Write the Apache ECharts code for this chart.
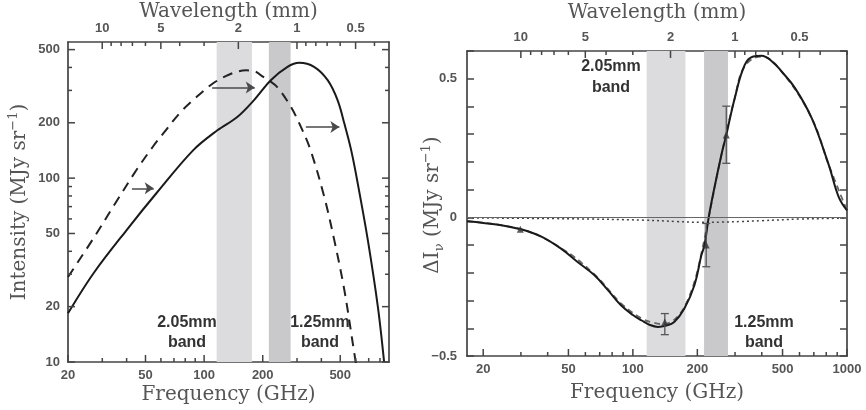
<!DOCTYPE html>
<html>
<head>
<meta charset="utf-8">
<script src="https://cdn.jsdelivr.net/npm/echarts@6/dist/echarts.min.js"></script>
<style>
  html, body { margin: 0; padding: 0; background: #fff; }
  #chart { width: 866px; height: 410px; }
</style>
</head>
<body>
<div id="chart"></div>
<script>
// ---------- Left panel: spectrum (log–log) ----------
// [frequency GHz, intensity MJy/sr]
const undistortedSpectrum = [
  [20, 29], [27, 47], [35, 73], [45, 111], [55, 150], [62, 176], [75, 226],
  [90, 272], [110, 325], [130, 360], [150, 381], [165, 386], [185, 378],
  [195, 363], [215, 340], [238, 312], [279, 244], [314, 190], [352, 142],
  [414, 79], [466, 46], [525, 24.6], [591, 11.1], [610, 9]
];
const distortedSpectrum = [
  [20, 18.4], [27, 30.3], [40, 52.2], [57, 83], [88, 142], [117, 182],
  [148, 215], [180, 265], [220, 341], [268, 403], [308, 424], [367, 403],
  [431, 341], [485, 265], [525, 198], [569, 142], [615, 93.6], [693, 46],
  [780, 20], [840, 10]
];
// [start GHz, end GHz, intensity]
const shiftArrows = [[42.6, 55.1, 88], [110, 182, 311], [333, 495, 190]];

// ---------- Right panel: intensity change ----------
// [frequency GHz, ΔI MJy/sr]
const deltaSolid = [
  [16.8, -0.014], [20, -0.02], [25, -0.03], [30, -0.043], [37, -0.068],
  [46, -0.112], [55, -0.16], [66, -0.208], [77, -0.265], [88, -0.317],
  [100, -0.352], [110, -0.372], [120, -0.388], [131, -0.395], [142, -0.391],
  [156, -0.377], [174, -0.329], [194, -0.244], [209, -0.136], [216, -0.1],
  [226, 0], [240, 0.105], [259, 0.225], [273, 0.297], [299, 0.43],
  [333, 0.55], [365, 0.58], [399, 0.583], [450, 0.56], [495, 0.526],
  [572, 0.466], [685, 0.357], [821, 0.19], [914, 0.074], [1000, 0.025]
];
const deltaDashed = [
  [16.8, -0.014], [30, -0.043], [46, -0.11], [66, -0.205], [88, -0.31],
  [110, -0.365], [125, -0.38], [138, -0.385], [150, -0.378], [165, -0.35],
  [180, -0.3], [196, -0.22], [209, -0.13], [226, 0], [259, 0.225],
  [299, 0.43], [333, 0.545], [399, 0.58], [495, 0.526], [685, 0.357],
  [821, 0.19], [1000, 0.025]
];
const deltaDotted = [
  [16.8, -0.002], [50, -0.005], [113, -0.01], [160, -0.015], [209, -0.018],
  [260, -0.017], [320, -0.015], [399, -0.012], [600, -0.006], [821, -0.004],
  [1000, -0.002]
];
const measuredPoints = [[29.8, -0.043], [141, -0.377], [220, -0.1], [273, 0.297]];
// [frequency, low, high]
const errorBars = [[141, -0.423, -0.347], [220, -0.178, -0.022], [273, 0.195, 0.401]];

// ---------- Shared ----------
const band205 = [116, 176];
const band125 = [215, 278];
const freqLabelsLeft = [20, 50, 100, 200, 500];
const freqMinorLeft = [30, 40, 60, 70, 80, 90, 300, 400, 600, 700, 800];
const freqLabelsRight = [20, 50, 100, 200, 500, 1000];
const freqMinorRight = [30, 40, 60, 70, 80, 90, 300, 400, 600, 700, 800, 900];
const intensityLabels = [10, 20, 50, 100, 200, 500];
const intensityMinor = [30, 40, 60, 70, 80, 90, 300, 400];
const deltaLabels = [-0.5, 0, 0.5];
const wavelengthLabels = [10, 5, 2, 1, 0.5];
const wavelengthMinor = [9, 8, 7, 6, 4, 3, 0.9, 0.8, 0.7, 0.6, 0.4, 0.3];

const C_MM_GHZ = 299.792458; // c in mm·GHz

const AXIS_COLOR = '#444';
const TEXT_COLOR = '#555';
const LABEL_FONT = { fontFamily: 'Liberation Sans', fontWeight: 'bold', fontSize: 13, color: TEXT_COLOR };
const TITLE_FONT = 'DejaVu Serif';
const TITLE_SIZE = 20;
const TICK_MAJOR = 7;
const TICK_MINOR = 4;

const X_RANGE = [[20, 890], [16.8, 1000]];
const Y_RANGE = [[10, 550], [-0.5, 0.6]];

function inRange(vals, r) { return vals.filter(v => v >= r[0] - 1e-9 && v <= r[1] + 1e-9); }
function toFreq(lams) { return lams.map(l => C_MM_GHZ / l); }

const titleStyle = { fontFamily: TITLE_FONT, fontSize: TITLE_SIZE, color: TEXT_COLOR };

function logXAxis(grid, position, labels, formatter, name, nameGap) {
  const r = X_RANGE[grid];
  return {
    type: 'log', logBase: 10, gridIndex: grid, position: position,
    min: r[0], max: r[1],
    name: name, nameLocation: 'middle', nameGap: nameGap, nameTextStyle: titleStyle,
    nameMoveOverlap: false,
    axisLine: { show: true, onZero: false, lineStyle: { color: AXIS_COLOR, width: 1.7 } },
    axisTick: { show: false },
    axisLabel: Object.assign({ show: true, margin: 7, customValues: inRange(labels, r),
                formatter: formatter }, LABEL_FONT),
    splitLine: { show: false }
  };
}

function logYAxis(position, labels) {
  const r = Y_RANGE[0];
  return {
    type: 'log', logBase: 10, gridIndex: 0, position: position,
    min: r[0], max: r[1],
    axisLine: { show: true, lineStyle: { color: AXIS_COLOR, width: 1.7 } },
    axisTick: { show: false },
    axisLabel: labels ? Object.assign({ show: true, margin: 8, customValues: labels,
                formatter: v => String(Math.round(v)) }, LABEL_FONT) : { show: false },
    splitLine: { show: false }
  };
}

function deltaYAxis(position, showLabels) {
  const r = Y_RANGE[1];
  return {
    type: 'value', gridIndex: 1, position: position,
    min: r[0], max: r[1], interval: 0.1,
    axisLine: { show: true, onZero: false, lineStyle: { color: AXIS_COLOR, width: 1.7 } },
    axisTick: { show: true, inside: true, length: TICK_MAJOR, lineStyle: { color: AXIS_COLOR, width: 1.5 } },
    axisLabel: showLabels ? Object.assign({ show: true, margin: 10, customValues: deltaLabels,
                formatter: v => (Math.abs(v) < 1e-9 ? '0' : (v < 0 ? '\u2212' + Math.abs(v) : String(v))) },
                LABEL_FONT) : { show: false },
    splitLine: { show: false }
  };
}

const lamFormatter = v => String(Math.round(C_MM_GHZ / v * 10) / 10);

// Tick anchors for the log axes: a point on the frame, the side it sits on and its length
function buildTicks(grid, bottomMajor, bottomMinor) {
  const xr = X_RANGE[grid], yr = Y_RANGE[grid];
  const specs = [];
  const add = (vals, side, len) => inRange(vals, (side === 'left' || side === 'right') ? yr : xr)
    .forEach(v => {
      const pos = side === 'bottom' ? [v, yr[0]] : side === 'top' ? [v, yr[1]]
                : side === 'left' ? [xr[0], v] : [xr[1], v];
      specs.push({ pos: pos, side: side, len: len });
    });
  add(bottomMajor, 'bottom', TICK_MAJOR);
  add(bottomMinor, 'bottom', TICK_MINOR);
  add(toFreq(wavelengthLabels), 'top', TICK_MAJOR);
  add(toFreq(wavelengthMinor), 'top', TICK_MINOR);
  if (grid === 0) {
    add(intensityLabels, 'left', TICK_MAJOR);
    add(intensityMinor, 'left', TICK_MINOR);
    add(intensityLabels, 'right', TICK_MAJOR);
    add(intensityMinor, 'right', TICK_MINOR);
  }
  return specs;
}

const xAxes = [
  logXAxis(0, 'bottom', freqLabelsLeft, v => String(Math.round(v)), 'Frequency (GHz)', 23),
  logXAxis(0, 'top', toFreq(wavelengthLabels), lamFormatter, 'Wavelength (mm)', 20),
  logXAxis(1, 'bottom', freqLabelsRight, v => String(Math.round(v)), 'Frequency (GHz)', 27),
  logXAxis(1, 'top', toFreq(wavelengthLabels), lamFormatter, 'Wavelength (mm)', 28)
];

const yAxes = [
  logYAxis('left', intensityLabels),
  logYAxis('right', null),
  deltaYAxis('left', true),
  deltaYAxis('right', false)
];

function bandArea(color, band) {
  return [{ xAxis: band[0], itemStyle: { color: color } }, { xAxis: band[1] }];
}
const bandSeries = (ai) => ({
  type: 'line', xAxisIndex: ai, yAxisIndex: ai, data: [], silent: true, z: 1,
  markArea: {
    silent: true,
    data: [bandArea('#dcdcde', band205), bandArea('#c9c9cc', band125)]
  }
});

const arrowLines = shiftArrows.map(a => [
  { coord: [a[0], a[2]] }, { coord: [a[1], a[2]] }
]);

const textGraphics = [
  {
    type: 'text', x: 20, y: 202, rotation: Math.PI / 2,
    style: {
      text: '{t|Intensity (MJy sr}{s|\u22121}{t|)}', align: 'center', verticalAlign: 'middle',
      rich: {
        t: { fontFamily: TITLE_FONT, fontSize: TITLE_SIZE, fill: TEXT_COLOR, lineHeight: 26 },
        s: { fontFamily: TITLE_FONT, fontSize: 13, fill: TEXT_COLOR, verticalAlign: 'top', lineHeight: 14 }
      }
    }
  },
  {
    type: 'text', x: 433, y: 205, rotation: Math.PI / 2,
    style: {
      text: '{t|\u0394I}{b|\u03bd}{t| (MJy sr}{s|\u22121}{t|)}', align: 'center', verticalAlign: 'middle',
      rich: {
        t: { fontFamily: TITLE_FONT, fontSize: TITLE_SIZE, fill: TEXT_COLOR, lineHeight: 26 },
        s: { fontFamily: TITLE_FONT, fontSize: 13, fill: TEXT_COLOR, verticalAlign: 'top', lineHeight: 14 },
        b: { fontFamily: TITLE_FONT, fontSize: 13, fill: TEXT_COLOR, verticalAlign: 'bottom', lineHeight: 14 }
      }
    }
  },
  { type: 'text', x: 187, y: 333, style: { text: '2.05mm\nband', align: 'center', verticalAlign: 'middle',
    font: 'bold 16px "Liberation Sans"', fill: '#333', lineHeight: 20 } },
  { type: 'text', x: 320, y: 333, style: { text: '1.25mm\nband', align: 'center', verticalAlign: 'middle',
    font: 'bold 16px "Liberation Sans"', fill: '#333', lineHeight: 20 } },
  { type: 'text', x: 611, y: 77, style: { text: '2.05mm\nband', align: 'center', verticalAlign: 'middle',
    font: 'bold 16px "Liberation Sans"', fill: '#333', lineHeight: 21 } },
  { type: 'text', x: 764, y: 333, style: { text: '1.25mm\nband', align: 'center', verticalAlign: 'middle',
    font: 'bold 16px "Liberation Sans"', fill: '#333', lineHeight: 20 } }
];

const chart = echarts.init(document.getElementById('chart'), null, { renderer: 'canvas' });
chart.setOption({
  animation: false,
  backgroundColor: '#fff',
  grid: [
    { left: 68, top: 42, width: 321, height: 320, outerBoundsMode: 'none', containLabel: false },
    { left: 467, top: 51, width: 380, height: 305, outerBoundsMode: 'none', containLabel: false }
  ],
  xAxis: xAxes,
  yAxis: yAxes,
  series: [
    bandSeries(0),
    bandSeries(2),
    {
      type: 'line', xAxisIndex: 0, yAxisIndex: 0, data: undistortedSpectrum,
      smooth: 0.35, showSymbol: false, z: 3,
      lineStyle: { color: '#222', width: 2, type: [10, 7] }
    },
    {
      type: 'line', xAxisIndex: 0, yAxisIndex: 0, data: distortedSpectrum,
      smooth: 0.35, showSymbol: false, z: 4,
      lineStyle: { color: '#1a1a1a', width: 2 },
      markLine: {
        silent: true, symbol: ['none', 'arrow'], symbolSize: 9,
        label: { show: false },
        lineStyle: { color: '#4a4a4a', width: 1.5, type: 'solid' },
        data: arrowLines
      }
    },
    {
      type: 'line', xAxisIndex: 2, yAxisIndex: 2, data: deltaDotted,
      smooth: 0.4, showSymbol: false, z: 3,
      lineStyle: { color: '#444', width: 1.5, type: [2, 3] },
      markLine: {
        silent: true, symbol: ['none', 'none'], label: { show: false },
        lineStyle: { color: '#666', width: 1, type: 'solid' },
        data: [{ yAxis: 0 }]
      }
    },
    {
      type: 'line', xAxisIndex: 2, yAxisIndex: 2, data: deltaDashed,
      smooth: 0.4, showSymbol: false, z: 3,
      lineStyle: { color: '#666', width: 1.8, type: [6, 4] }
    },
    {
      type: 'line', xAxisIndex: 2, yAxisIndex: 2, data: deltaSolid,
      smooth: 0.4, showSymbol: false, z: 4,
      lineStyle: { color: '#1a1a1a', width: 2 }
    },
    {
      type: 'custom', xAxisIndex: 2, yAxisIndex: 2, data: errorBars, z: 5,
      encode: { x: 0, y: [1, 2] },
      renderItem: function (params, api) {
        const lo = api.coord([api.value(0), api.value(1)]);
        const hi = api.coord([api.value(0), api.value(2)]);
        const cap = 4;
        const st = { stroke: '#555', lineWidth: 1.3 };
        return {
          type: 'group', children: [
            { type: 'line', shape: { x1: lo[0], y1: lo[1], x2: hi[0], y2: hi[1] }, style: st },
            { type: 'line', shape: { x1: lo[0] - cap, y1: lo[1], x2: lo[0] + cap, y2: lo[1] }, style: st },
            { type: 'line', shape: { x1: hi[0] - cap, y1: hi[1], x2: hi[0] + cap, y2: hi[1] }, style: st }
          ]
        };
      }
    },
    {
      type: 'scatter', xAxisIndex: 2, yAxisIndex: 2, data: measuredPoints, z: 6,
      symbol: 'triangle', symbolSize: 7, itemStyle: { color: '#333' }
    }
  ],
  graphic: textGraphics
});

// Log-axis tick marks, placed through the chart's own axis scales
function tickGraphics(seriesIndex, specs) {
  const dirs = { bottom: [0, -1], top: [0, 1], left: [1, 0], right: [-1, 0] };
  const out = [];
  specs.forEach(s => {
    const p = chart.convertToPixel({ seriesIndex: seriesIndex }, s.pos);
    if (!p) return;
    const d = dirs[s.side];
    out.push({
      type: 'line', silent: true, z: 100,
      shape: { x1: p[0], y1: p[1], x2: p[0] + d[0] * s.len, y2: p[1] + d[1] * s.len },
      style: { stroke: AXIS_COLOR, lineWidth: 1.5 }
    });
  });
  return out;
}

const tickEls = tickGraphics(2, buildTicks(0, freqLabelsLeft, freqMinorLeft))
  .concat(tickGraphics(6, buildTicks(1, freqLabelsRight, freqMinorRight)));

chart.setOption({ graphic: textGraphics.concat(tickEls) });
</script>
</body>
</html>
